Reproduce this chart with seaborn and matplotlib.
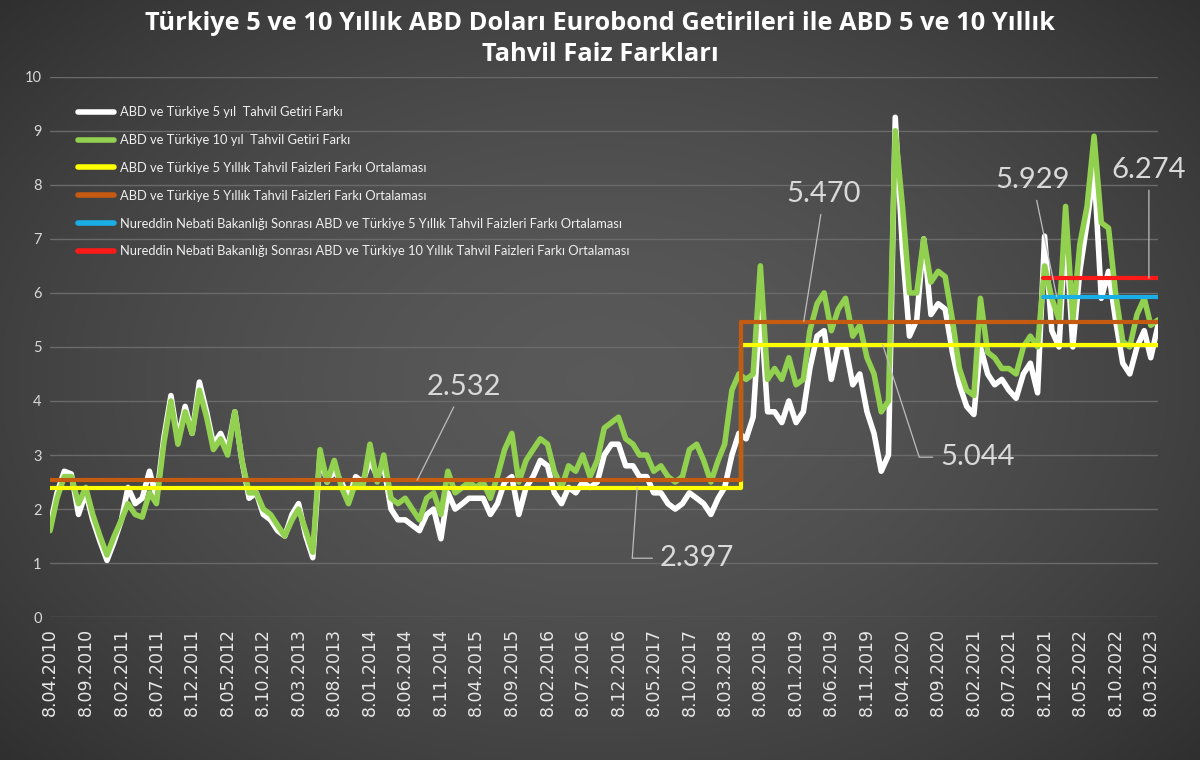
import matplotlib
matplotlib.use("Agg")
import matplotlib.pyplot as plt
import matplotlib.dates as mdates
import numpy as np
import pandas as pd
import seaborn as sns

# aylik tarih ekseni (her ayin 8'i)
dates = pd.date_range("2010-04-01", periods=157, freq="MS") + pd.Timedelta(days=7)

# ABD - Türkiye 10 yillik fark (yesil)
spread_10y = [
    1.6, 2.2, 2.6, 2.6, 2.1, 2.4, 1.9, 1.5, 1.15, 1.5,
    1.8, 2.1, 1.9, 1.85, 2.3, 2.1, 3.2, 4.0, 3.2, 3.8,
    3.4, 4.2, 3.7, 3.1, 3.3, 3.0, 3.8, 2.9, 2.3, 2.3,
    2.0, 1.9, 1.7, 1.5, 1.8, 2.0, 1.6, 1.2, 3.1, 2.5,
    2.9, 2.4, 2.1, 2.5, 2.4, 3.2, 2.5, 3.0, 2.2, 2.1,
    2.2, 2.0, 1.8, 2.2, 2.3, 1.9, 2.7, 2.3, 2.4, 2.5,
    2.4, 2.5, 2.2, 2.6, 3.1, 3.4, 2.5, 2.9, 3.1, 3.3,
    3.2, 2.7, 2.4, 2.8, 2.7, 3.0, 2.6, 2.9, 3.5, 3.6,
    3.7, 3.3, 3.2, 3.0, 3.0, 2.7, 2.8, 2.6, 2.5, 2.6,
    3.1, 3.2, 2.9, 2.5, 2.9, 3.2, 4.2, 4.5, 4.4, 4.5,
    6.5, 4.4, 4.6, 4.4, 4.8, 4.3, 4.4, 5.3, 5.8, 6.0,
    5.3, 5.7, 5.9, 5.2, 5.4, 4.8, 4.5, 3.8, 4.0, 9.0,
    7.6, 6.0, 6.0, 7.0, 6.2, 6.4, 6.3, 5.5, 4.6, 4.2,
    4.1, 5.9, 4.9, 4.8, 4.6, 4.6, 4.5, 5.0, 5.2, 5.0,
    6.5, 5.9, 5.5, 7.6, 5.5, 6.9, 7.6, 8.9, 7.3, 7.2,
    6.0, 5.1, 5.0, 5.6, 5.9, 5.4, 5.5,
]

# ABD - Türkiye 5 yillik fark (beyaz)
spread_5y = [
    1.7, 2.3, 2.7, 2.65, 1.9, 2.3, 1.8, 1.4, 1.05, 1.4,
    1.8, 2.4, 2.1, 2.2, 2.7, 2.2, 3.3, 4.1, 3.3, 3.9,
    3.4, 4.35, 3.8, 3.2, 3.4, 3.1, 3.8, 2.9, 2.2, 2.3,
    1.9, 1.8, 1.6, 1.5, 1.9, 2.1, 1.5, 1.1, 3.0, 2.5,
    2.7, 2.5, 2.2, 2.6, 2.5, 2.9, 2.6, 2.8, 2.0, 1.8,
    1.8, 1.7, 1.6, 1.9, 2.0, 1.45, 2.3, 2.0, 2.1, 2.2,
    2.2, 2.2, 1.9, 2.1, 2.5, 2.6, 1.9, 2.4, 2.6, 2.9,
    2.8, 2.3, 2.1, 2.4, 2.3, 2.5, 2.4, 2.5, 3.0, 3.2,
    3.2, 2.8, 2.8, 2.6, 2.6, 2.3, 2.3, 2.1, 2.0, 2.1,
    2.3, 2.2, 2.1, 1.9, 2.2, 2.4, 3.0, 3.4, 3.3, 3.7,
    5.8, 3.8, 3.8, 3.6, 4.0, 3.6, 3.8, 4.6, 5.2, 5.3,
    4.4, 5.0, 5.0, 4.3, 4.5, 3.8, 3.4, 2.7, 3.0, 9.25,
    6.8, 5.2, 5.5, 7.0, 5.6, 5.8, 5.7, 4.9, 4.3, 3.9,
    3.75, 5.0, 4.5, 4.3, 4.4, 4.2, 4.05, 4.5, 4.7, 4.15,
    7.05, 5.3, 5.0, 7.2, 5.0, 6.4, 7.3, 8.3, 5.9, 6.4,
    5.5, 4.7, 4.5, 5.0, 5.3, 4.8, 5.4,
]

# ortalamalar (kirilma oncesi / sonrasi)
break_date = pd.Timestamp("2018-05-15")
nebati_date = pd.Timestamp("2021-12-02")
mean_5y = [2.397, 5.044]
mean_10y = [2.532, 5.470]
nebati_mean_5y = 5.929
nebati_mean_10y = 6.274

labels = [
    "ABD ve Türkiye 5 yıl  Tahvil Getiri Farkı",
    "ABD ve Türkiye 10 yıl  Tahvil Getiri Farkı",
    "ABD ve Türkiye 5 Yıllık Tahvil Faizleri Farkı Ortalaması",
    "ABD ve Türkiye 5 Yıllık Tahvil Faizleri Farkı Ortalaması",
    "Nureddin Nebati Bakanlığı Sonrası ABD ve Türkiye 5 Yıllık Tahvil Faizleri Farkı Ortalaması",
    "Nureddin Nebati Bakanlığı Sonrası ABD ve Türkiye 10 Yıllık Tahvil Faizleri Farkı Ortalaması",
]
title = ("Türkiye 5 ve 10 Yıllık ABD Doları Eurobond Getirileri ile ABD 5 ve 10 Yıllık\n"
         "Tahvil Faiz Farkları")

sns.set_theme(style="white")
plt.rcParams["font.family"] = ["Lato", "DejaVu Sans"]

TXT = "#d9d9d9"
fig = plt.figure(figsize=(12, 7.6), dpi=100)

# arka plan: koyu gri radyal gecis
bg = fig.add_axes([0, 0, 1, 1], zorder=0)
gy, gx = np.mgrid[0:1:380j, 0:1:600j]
r = np.sqrt(((gx - 0.5) / 0.75) ** 2 + ((gy - 0.5) / 0.8) ** 2)
r = np.clip(r, 0, 1)
shade = 0.35 - 0.19 * r ** 1.6
bg.imshow(np.dstack([shade, shade, shade]), extent=[0, 1, 0, 1], aspect="auto")
bg.axis("off")

ax = fig.add_axes([0.0417, 0.188, 0.9233, 0.711], zorder=1)
ax.set_facecolor("none")

sns.lineplot(x=dates, y=spread_5y, ax=ax, color="white", lw=4.0, label=labels[0])
sns.lineplot(x=dates, y=spread_10y, ax=ax, color="#92D050", lw=4.0, label=labels[1])

step_x = [dates[0], break_date, break_date, dates[-1]]
sns.lineplot(x=step_x, y=[mean_5y[0], mean_5y[0], mean_5y[1], mean_5y[1]], ax=ax,
             estimator=None, sort=False, color="#FFFF00", lw=3.0, label=labels[2])
sns.lineplot(x=step_x, y=[mean_10y[0], mean_10y[0], mean_10y[1], mean_10y[1]], ax=ax,
             estimator=None, sort=False, color="#C55A11", lw=3.0, label=labels[3])
sns.lineplot(x=[nebati_date, dates[-1]], y=[nebati_mean_5y, nebati_mean_5y], ax=ax,
             estimator=None, sort=False, color="#19AFE6", lw=3.0, label=labels[4])
sns.lineplot(x=[nebati_date, dates[-1]], y=[nebati_mean_10y, nebati_mean_10y], ax=ax,
             estimator=None, sort=False, color="#FF1A1A", lw=3.0, label=labels[5])

ax.set_xlim(dates[0], dates[-1])
ax.set_ylim(0, 10)
ax.set_yticks(range(0, 11))
ax.grid(axis="y", color="#6a6a6a", lw=1.0)
ax.grid(axis="x", visible=False)
for s in ax.spines.values():
    s.set_visible(False)
ax.set_xlabel("")
ax.set_ylabel("")

tick_dates = dates[:-1:5]
ax.set_xticks(tick_dates)
ax.set_xticklabels([f"{d.day}.{d.month:02d}.{d.year}" for d in tick_dates],
                   rotation=90, fontsize=12.5, color="#e6e6e6", family="DejaVu Sans")
ax.tick_params(axis="x", length=0, pad=8)
ax.tick_params(axis="y", length=0, pad=6, labelsize=10.5, labelcolor=TXT)

leg = ax.legend(loc="upper left", bbox_to_anchor=(0.025, 0.945), frameon=False,
                fontsize=9.3, labelcolor="#f0f0f0", borderpad=0, borderaxespad=0,
                handlelength=2.8, handletextpad=0.5, labelspacing=1.22)
for h in leg.get_lines():
    h.set_linewidth(4)

# ortalama etiketleri
notes = [
    (mean_10y[0], "2014-07-29", "2015-02-14", 4.26, "arc3"),
    (mean_5y[0], "2017-02-26", "2017-11-10", 1.09, "angle,angleA=0,angleB=86,rad=0"),
    (mean_10y[1], "2019-02-10", "2019-05-08", 7.83, "arc3"),
    (mean_5y[1], "2020-01-14", "2021-02-23", 2.96, "angle,angleA=0,angleB=-72,rad=0"),
    (nebati_mean_5y, "2022-01-29", "2021-10-17", 8.09, "arc3"),
    (nebati_mean_10y, "2023-02-28", "2023-02-28", 8.28, "arc3"),
]
for val, xd, td, ty, conn in notes:
    ax.annotate(f"{val:.3f}",
                xy=(mdates.date2num(pd.Timestamp(xd)), val),
                xytext=(mdates.date2num(pd.Timestamp(td)), ty),
                ha="center", va="center", fontsize=21, color=TXT, zorder=5,
                arrowprops=dict(arrowstyle="-", color="#bdbdbd", lw=0.9,
                                shrinkA=3, shrinkB=0, connectionstyle=conn))

fig.text(0.5, 0.986, title, ha="center", va="top", fontsize=18.3, fontweight="bold",
         color="white", linespacing=1.35, family=["Open Sans", "DejaVu Sans"])

fig.savefig("out.png", dpi=100)
